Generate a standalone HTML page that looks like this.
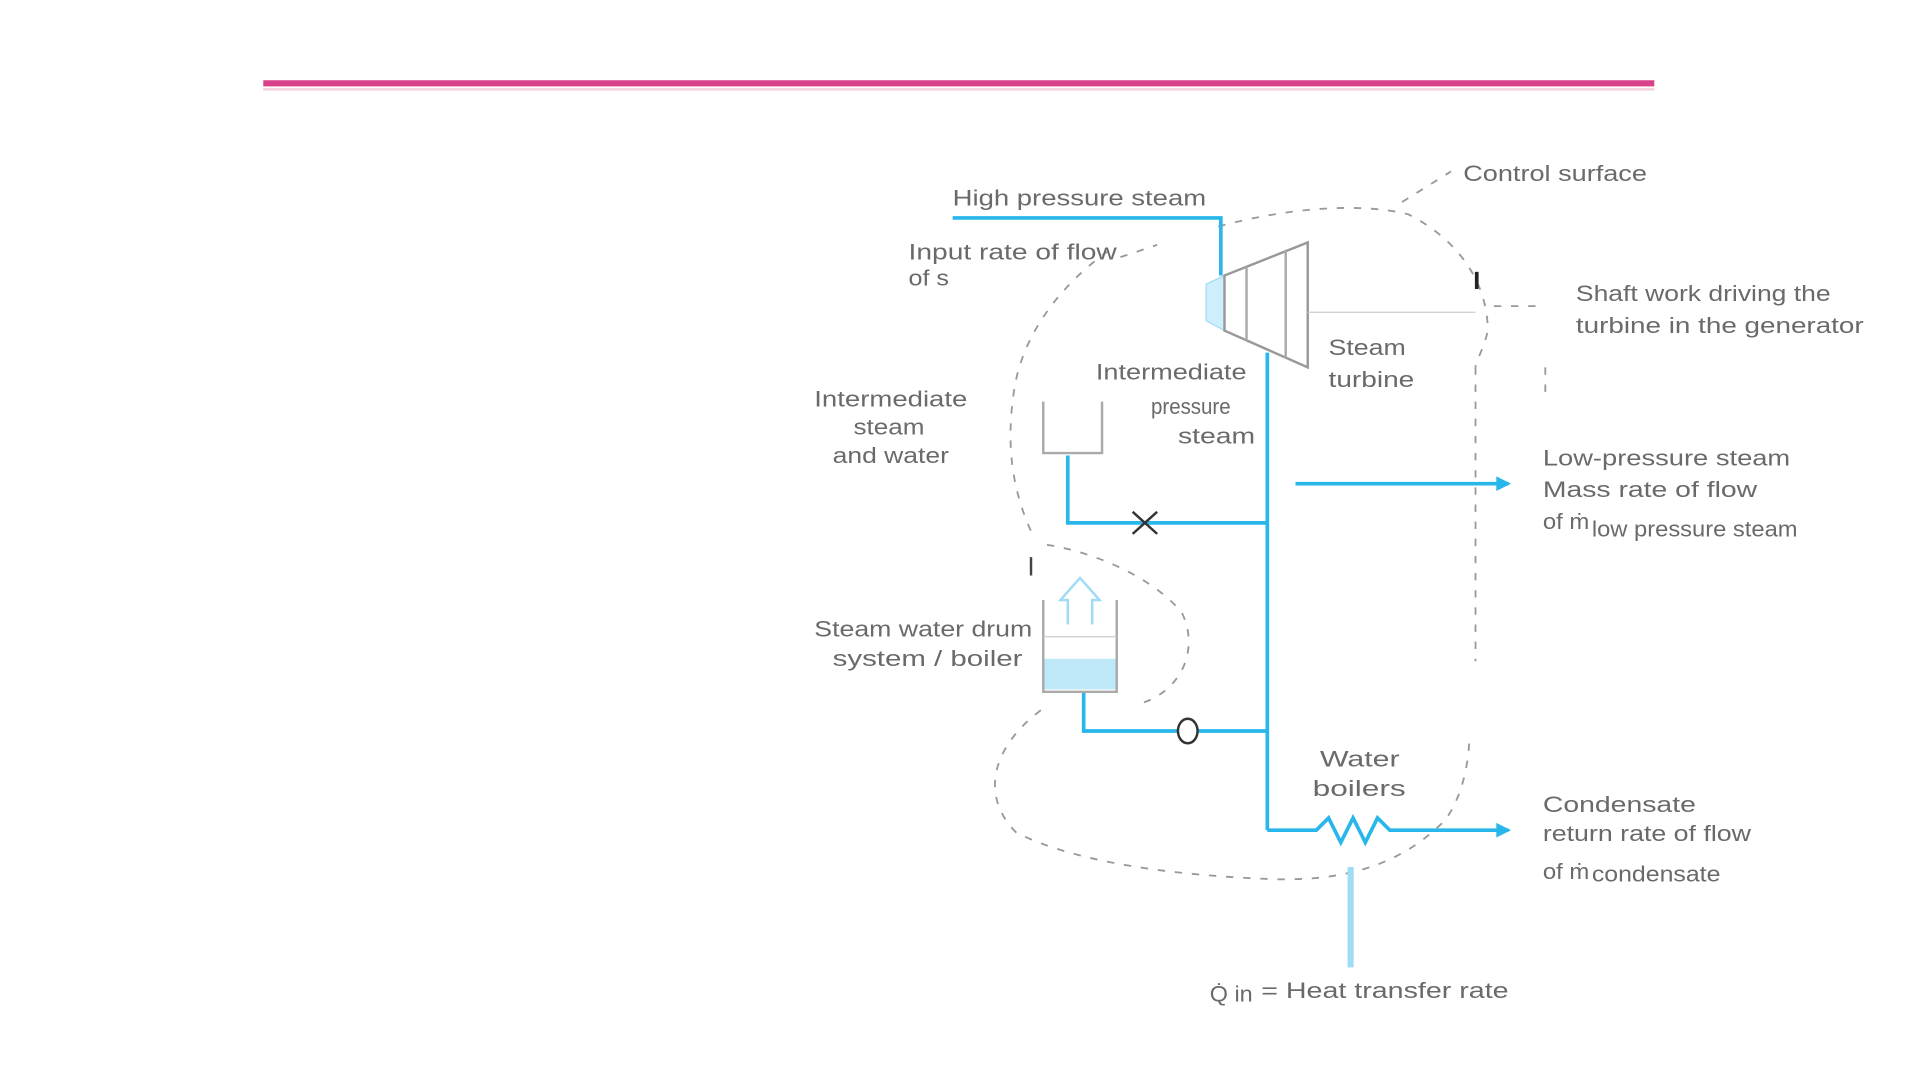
<!DOCTYPE html>
<html><head><meta charset="utf-8"><style>
html,body{margin:0;padding:0;background:#fff;}
svg{display:block}
text{font-family:"Liberation Sans",sans-serif;fill:#6a6a6a;font-size:18px}
</style></head><body>
<svg width="1920" height="1080" viewBox="0 0 1568 882" xmlns="http://www.w3.org/2000/svg">
<rect width="1568" height="882" fill="#fff"/>
<line x1="215" y1="68" x2="1351" y2="68" stroke="#d9418a" stroke-width="5"/>
<line x1="215" y1="73" x2="1351" y2="73" stroke="#f3d0e0" stroke-width="2"/>
<g fill="none" stroke="#999" stroke-width="1.5" stroke-dasharray="6,8">
<path d="M905 205 C870 230 835 270 828 320 C822 360 825 400 845 440"/>
<path d="M855 445 C890 450 940 470 965 500 C980 530 965 565 930 575"/>
<path d="M850 580 C810 610 800 650 830 680 C880 705 960 715 1040 718 C1110 720 1150 700 1180 670 C1195 650 1200 620 1200 600"/>
<path d="M995 185 C1050 170 1110 165 1150 175 C1190 195 1215 230 1215 270 C1212 285 1205 295 1205 300"/>
<line x1="1205" y1="300" x2="1205" y2="540"/>
<path d="M1145 165 L1185 140"/>
<path d="M915 210 L945 200"/>
<path d="M1220 250 L1255 250"/>
<path d="M1262 300 L1262 320"/>
</g>
<line x1="1206" y1="222" x2="1206" y2="236" stroke="#222" stroke-width="3"/>
<line x1="842" y1="455" x2="842" y2="470" stroke="#444" stroke-width="2"/>
<g stroke="#29b6ea" fill="none" stroke-width="3">
<polyline points="778,178 997,178 997,225"/>
<line x1="1035" y1="288" x2="1035" y2="678"/>
<polyline points="872,372 872,427 1035,427"/>
<polyline points="885,565 885,597 1035,597"/>
<polyline points="1035,678 1075,678 1085,668 1095,688 1105,668 1115,688 1125,668 1135,678 1232,678"/>
<line x1="1058" y1="395" x2="1232" y2="395"/>
</g>
<line x1="1103" y1="708" x2="1103" y2="790" stroke="#9fdcf5" stroke-width="5"/>
<polygon points="1222,389 1234,395 1222,401" fill="#29b6ea"/>
<polygon points="1222,672 1234,678 1222,684" fill="#29b6ea"/>
<polygon points="985,232 1000,225 1000,270 985,262" fill="#cdeefb" stroke="#9fdcf5"/>
<polygon points="1000,225 1068,198 1068,300 1000,270" fill="#fff" stroke="#999" stroke-width="2"/>
<line x1="1018" y1="218" x2="1018" y2="278" stroke="#aaa" stroke-width="2"/>
<line x1="1050" y1="205" x2="1050" y2="292" stroke="#aaa" stroke-width="2"/>
<line x1="1068" y1="255" x2="1205" y2="255" stroke="#ccc" stroke-width="1"/>
<polyline points="852,328 852,370 900,370 900,328" fill="none" stroke="#aaa" stroke-width="2"/>
<path d="M925 418 L945 436 M925 436 L945 418" stroke="#333" stroke-width="2"/>
<rect x="852" y="538" width="60" height="25" fill="#bfe8f8"/>
<polyline points="852,490 852,565 912,565 912,490" fill="none" stroke="#aaa" stroke-width="2"/>
<line x1="852" y1="520" x2="912" y2="520" stroke="#ccc"/>
<path d="M872 510 L872 490 L866 490 L882 472 L898 490 L892 490 L892 510" fill="none" stroke="#9fdcf5" stroke-width="2"/>
<ellipse cx="970" cy="597" rx="8" ry="10" fill="#fff" stroke="#333" stroke-width="2"/>
<g lengthAdjust="spacingAndGlyphs">
<text x="778" y="168" textLength="207" lengthAdjust="spacingAndGlyphs">High pressure steam</text>
<text x="742" y="212" textLength="170" lengthAdjust="spacingAndGlyphs">Input rate of flow</text>
<text x="742" y="233" textLength="33" lengthAdjust="spacingAndGlyphs">of s</text>
<text x="1195" y="148" textLength="150" lengthAdjust="spacingAndGlyphs">Control surface</text>
<text x="1287" y="246" textLength="208" lengthAdjust="spacingAndGlyphs">Shaft work driving the</text>
<text x="1287" y="272" textLength="235" lengthAdjust="spacingAndGlyphs">turbine in the generator</text>
<text x="1085" y="290" textLength="63" lengthAdjust="spacingAndGlyphs">Steam</text>
<text x="1085" y="316" textLength="70" lengthAdjust="spacingAndGlyphs">turbine</text>
<text x="895" y="310" textLength="123" lengthAdjust="spacingAndGlyphs">Intermediate</text>
<text x="940" y="338" textLength="65" lengthAdjust="spacingAndGlyphs">pressure</text>
<text x="962" y="362" textLength="63" lengthAdjust="spacingAndGlyphs">steam</text>
<text x="665" y="332" textLength="125" lengthAdjust="spacingAndGlyphs">Intermediate</text>
<text x="697" y="355" textLength="58" lengthAdjust="spacingAndGlyphs">steam</text>
<text x="680" y="378" textLength="95" lengthAdjust="spacingAndGlyphs">and water</text>
<text x="1260" y="380" textLength="202" lengthAdjust="spacingAndGlyphs">Low-pressure steam</text>
<text x="1260" y="406" textLength="175" lengthAdjust="spacingAndGlyphs">Mass rate of flow</text>
<text x="1260" y="432" textLength="38" lengthAdjust="spacingAndGlyphs">of ṁ</text>
<text x="1300" y="438" font-size="12" textLength="168" lengthAdjust="spacingAndGlyphs">low pressure steam</text>
<text x="665" y="520" textLength="178" lengthAdjust="spacingAndGlyphs">Steam water drum</text>
<text x="680" y="544" textLength="155" lengthAdjust="spacingAndGlyphs">system / boiler</text>
<text x="1078" y="626" textLength="65" lengthAdjust="spacingAndGlyphs">Water</text>
<text x="1072" y="650" textLength="76" lengthAdjust="spacingAndGlyphs">boilers</text>
<text x="1260" y="663" textLength="125" lengthAdjust="spacingAndGlyphs">Condensate</text>
<text x="1260" y="687" textLength="170" lengthAdjust="spacingAndGlyphs">return rate of flow</text>
<text x="1260" y="718" textLength="38" lengthAdjust="spacingAndGlyphs">of ṁ</text>
<text x="1300" y="720" font-size="12" textLength="105" lengthAdjust="spacingAndGlyphs">condensate</text>
<text x="988" y="818" font-size="14" textLength="35" lengthAdjust="spacingAndGlyphs">Q̇ in</text>
<text x="1030" y="815" textLength="202" lengthAdjust="spacingAndGlyphs">= Heat transfer rate</text>
</g>
</svg>
</body></html>
